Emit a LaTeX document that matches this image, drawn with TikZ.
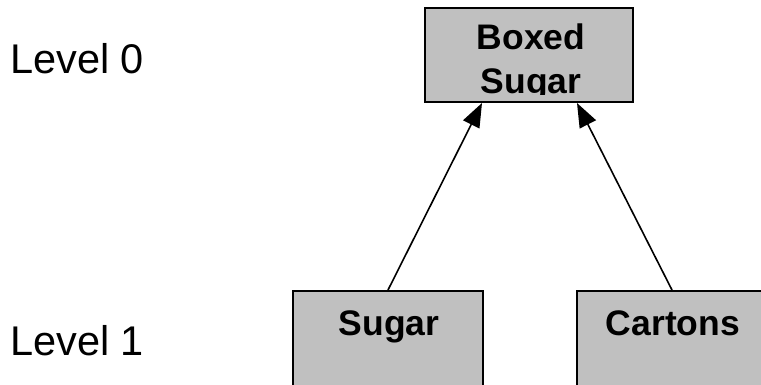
\documentclass[tikz,border=0pt]{standalone}
\usepackage{fontspec}
\setmainfont{Liberation Sans}
\usetikzlibrary{arrows.meta}
\begin{document}
\begin{tikzpicture}[x=1pt,y=1pt,
  box/.style={draw=black, line width=2pt, fill={rgb,255:red,192;green,192;blue,192}, rectangle, inner sep=0pt},
  boxtext/.style={inner sep=0pt, anchor=base, font=\fontsize{35.5}{43}\selectfont\bfseries},
  leveltext/.style={inner sep=0pt, anchor=base west, font=\fontsize{41.5}{48}\selectfont},
  link/.style={line width=1.6pt, -{Triangle[length=24pt,width=18pt]}}]
\useasboundingbox (0,0) rectangle (761,-384);
\clip (0,0) rectangle (761,-384);
% top box
\node[box, minimum width=208pt, minimum height=94pt] (boxed) at (529,-55) {};
\begin{scope}
  \clip (425,-8) rectangle (633,-94);
  \node[boxtext] (boxedA) at (531,-49) {Boxed};
  \node[boxtext] (boxedB) at (531,-93) {Sugar};
\end{scope}
% bottom boxes (cut by the page edge)
\node[box, minimum width=190pt, minimum height=160pt, anchor=north] (sugar) at (388,-290) {};
\node[box, minimum width=190pt, minimum height=160pt, anchor=north] (cartons) at (672,-290) {};
\node[boxtext] (sugarT) at (389,-335) {Sugar};
\node[boxtext] (cartonsT) at (673,-335) {Cartons};
% level labels
\node[leveltext] (lvl0) at (10,-73) {Level 0};
\node[leveltext] (lvl1) at (10,-355) {Level 1};
% arrow end points on the top box
\coordinate (inL) at (482,-103);
\coordinate (inR) at (577,-103);
\draw[link] (sugar.north) -- (inL);
\draw[link] (cartons.north) -- (inR);
\end{tikzpicture}
\end{document}
